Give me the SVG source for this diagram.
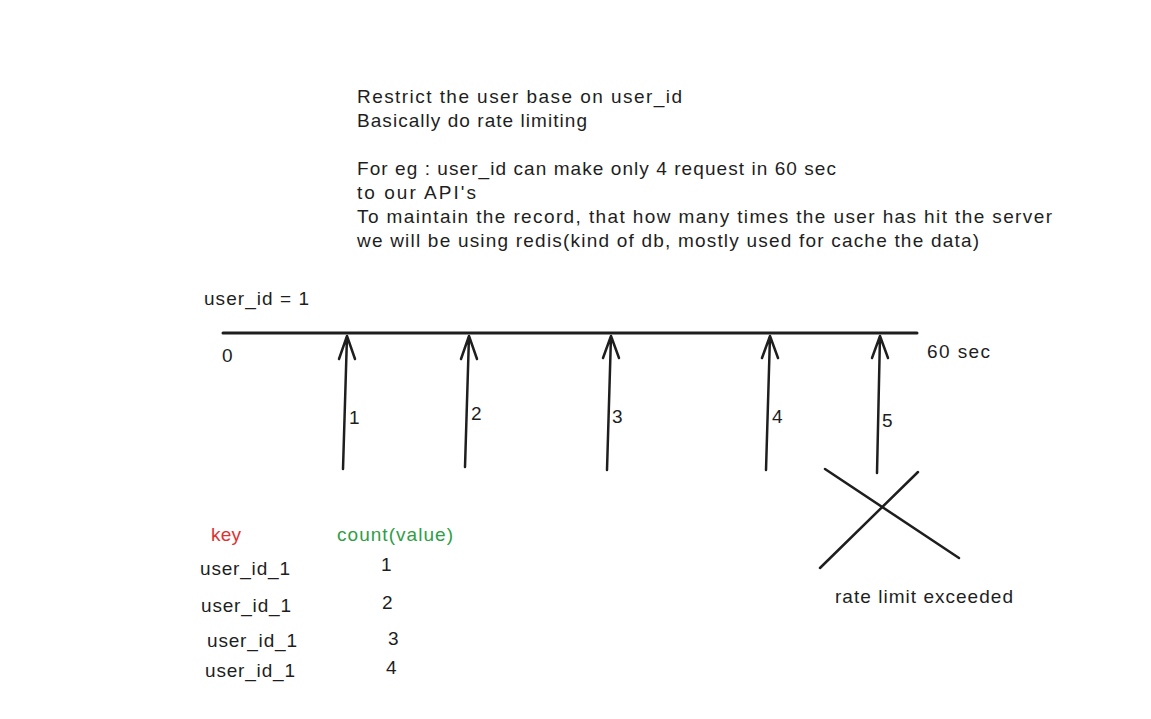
<svg xmlns="http://www.w3.org/2000/svg" width="1151" height="719" viewBox="0 0 1151 719">
<style>
text{font-family:"Liberation Sans","DejaVu Sans",sans-serif;font-size:19px;fill:#1e1e1e}
.ln{stroke:#1e1e1e;stroke-width:2.5;fill:none;stroke-linecap:round;stroke-linejoin:round}
.red{fill:#e03131}.green{fill:#2f9e44}
</style>
<rect width="1151" height="719" fill="#ffffff"/>
<g id="notes">
<text x="357" y="103" textLength="325" lengthAdjust="spacing">Restrict the user base on user_id</text>
<text x="357" y="127" textLength="230" lengthAdjust="spacing">Basically do rate limiting</text>
<text x="357" y="175" textLength="479" lengthAdjust="spacing">For eg : user_id can make only 4 request in 60 sec</text>
<text x="357" y="199" textLength="119" lengthAdjust="spacing">to our API's</text>
<text x="357" y="223" textLength="695" lengthAdjust="spacing">To maintain the record, that how many times the user has hit the server</text>
<text x="357" y="247" textLength="622" lengthAdjust="spacing">we will be using redis(kind of db, mostly used for cache the data)</text>
</g>
<g id="timeline">
<text x="204" y="305" textLength="105" lengthAdjust="spacing">user_id = 1</text>
<line class="ln" x1="223" y1="333" x2="917" y2="333" style="stroke-width:3"/>
<text x="222" y="362">0</text>
<text x="927" y="358" textLength="63" lengthAdjust="spacing">60 sec</text>
</g>
<g id="connectors">
<path class="ln" d="M343 469 L347 336 M339 359 L347 336 L355 359"/>
<path class="ln" d="M465 467 L469 336 M461 359 L469 336 L477 359"/>
<path class="ln" d="M607 470 L611 336 M603 358 L611 336 L619 358"/>
<path class="ln" d="M766 470 L770 336 M762 358 L770 336 L778 358"/>
<path class="ln" d="M877 473 L880 336 M872 358 L880 336 L888 358"/>
</g>
<g id="arrow-labels">
<text x="349" y="424">1</text>
<text x="471" y="420">2</text>
<text x="612" y="423">3</text>
<text x="772" y="423">4</text>
<text x="882" y="427">5</text>
</g>
<g id="cross">
<line class="ln" x1="825" y1="469" x2="959" y2="558"/>
<line class="ln" x1="918" y1="472" x2="820" y2="568"/>
<text x="835" y="603" textLength="178" lengthAdjust="spacing">rate limit exceeded</text>
</g>
<g id="table">
<text class="red" x="211" y="541" textLength="30" lengthAdjust="spacing">key</text>
<text class="green" x="337" y="541" textLength="116" lengthAdjust="spacing">count(value)</text>
<text x="200" y="575" textLength="90" lengthAdjust="spacing">user_id_1</text>
<text x="381" y="571">1</text>
<text x="201" y="612" textLength="90" lengthAdjust="spacing">user_id_1</text>
<text x="382" y="609">2</text>
<text x="207" y="647" textLength="90" lengthAdjust="spacing">user_id_1</text>
<text x="388" y="645">3</text>
<text x="205" y="677" textLength="90" lengthAdjust="spacing">user_id_1</text>
<text x="386" y="674">4</text>
</g>
</svg>
